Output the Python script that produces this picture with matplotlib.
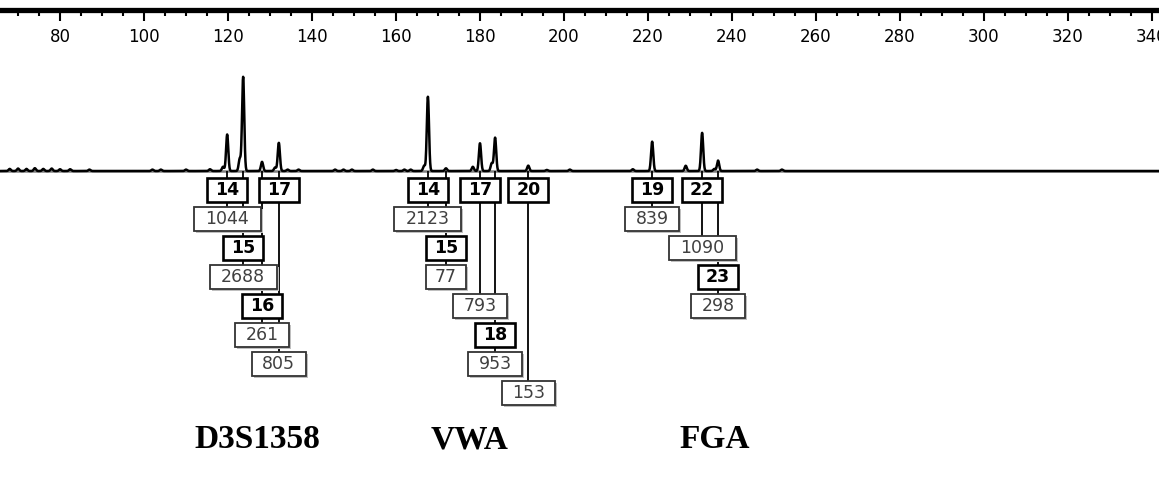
import numpy as np
import matplotlib.pyplot as plt
from matplotlib.patches import Rectangle

# ---- data ----
loci = ['D3S1358', 'VWA', 'FGA']
locus_pos = [127.0, 177.5, 236.0]

# called alleles: label, size (bp), peak height (RFU)
allele_names = ['14', '15', '16', '17', '14', '15', '17', '18', '20', '19', '22', '23']
allele_size = [119.8, 123.6, 128.1, 132.1, 167.6, 171.9, 180.0, 183.6, 191.5, 221.0, 232.9, 236.7]
allele_rfu = [1044, 2688, 261, 805, 2123, 77, 793, 953, 153, 839, 1090, 298]
# row of the allele box and of the height box under the trace
name_row = [0, 2, 4, 0, 0, 2, 0, 5, 0, 0, 0, 3]
value_row = [1, 3, 5, 6, 1, 3, 4, 6, 7, 1, 2, 4]

# stutter, shoulders and baseline noise
minor_size = [68, 70, 72, 74, 76, 78, 80, 82.4, 87, 102, 104, 110, 115.7, 118.8,
              122.8, 131.2, 134.2, 136.8, 145.5, 147.5, 149.5, 154.5, 160, 162,
              163.5, 166.7, 178.3, 182.8, 195.9, 201.4, 216.4, 229.0, 235.8,
              246.0, 251.9]
minor_rfu = [60, 70, 60, 80, 60, 70, 50, 50, 40, 40, 40, 40, 50, 120,
             350, 100, 40, 40, 40, 40, 40, 40, 30, 40,
             40, 150, 120, 220, 30, 40, 50, 150, 60,
             40, 40]

x_lo, x_hi = 65.7, 341.7

fig = plt.figure(figsize=(11.59, 4.79), dpi=100)
fig.patch.set_facecolor('white')
H = 479.0

# ---- ruler on top ----
ax_r = fig.add_axes([0, 1 - 10 / H, 1, 10 / H])
ax_r.set_xlim(x_lo, x_hi)
ax_r.set_yticks([])
for s in ['top', 'left', 'right']:
    ax_r.spines[s].set_visible(False)
ax_r.spines['bottom'].set_linewidth(3.8)
ax_r.set_xticks(np.arange(80, 341, 20))
ax_r.set_xticks(np.arange(70, 345, 5), minor=True)
ax_r.tick_params(axis='x', which='major', length=8, width=1.5, pad=5,
                 labelsize=12, colors='black')
ax_r.tick_params(axis='x', which='minor', length=4.5, width=1.5)
ax_r.patch.set_alpha(0)

# ---- trace ----
scale = 0.035  # px per RFU
ax_tr = fig.add_axes([0, (H - 180) / H, 1, 140 / H])
ax_tr.set_xlim(x_lo, x_hi)
ax_tr.set_ylim(-9 / scale, 131 / scale)
ax_tr.axis('off')

xs = np.linspace(x_lo, x_hi, 8000)
trace = np.zeros_like(xs)
sig = 0.26
for s, h in zip(allele_size + minor_size, allele_rfu + minor_rfu):
    trace += h * np.exp(-0.5 * ((xs - s) / sig) ** 2)
ax_tr.axhline(0, color='0.5', lw=1.8, zorder=1)
ax_tr.plot(xs, trace, color='black', lw=1.8, zorder=2)

# ---- allele / height boxes ----
row_px = 29.0
ax_lab = fig.add_axes([0, 0, 1, (H - 171) / H])
ax_lab.set_xlim(x_lo, x_hi)
top_row = -19 / row_px
ax_lab.set_ylim((H - 190) / row_px, top_row)
ax_lab.axis('off')

px_bp = 1159 / (x_hi - x_lo)
box_h = 24 / row_px

for name, s, h, r0, r1 in zip(allele_names, allele_size, allele_rfu, name_row, value_row):
    ax_lab.plot([s, s], [top_row, r0], color='black', lw=1.3, zorder=1)
    ax_lab.plot([s, s], [r0, r1], color='black', lw=1.3, zorder=1)

    w = (13.5 * len(name) + 13) / px_bp
    ax_lab.add_patch(Rectangle((s - w / 2, r0 - box_h / 2), w, box_h,
                               facecolor='white', edgecolor='black', lw=1.9, zorder=3))
    ax_lab.text(s, r0, name, ha='center', va='center', fontsize=12.5,
                fontweight='bold', color='black', zorder=4)

    lbl = str(h)
    w = (13.5 * len(lbl) + 13) / px_bp
    ax_lab.add_patch(Rectangle((s - w / 2 + 2 / px_bp, r1 - box_h / 2 + 2 / row_px), w, box_h,
                               facecolor='0.75', edgecolor='none', zorder=2))
    ax_lab.add_patch(Rectangle((s - w / 2, r1 - box_h / 2), w, box_h,
                               facecolor='white', edgecolor='0.2', lw=1.3, zorder=3))
    ax_lab.text(s, r1, lbl, ha='center', va='center', fontsize=12.5,
                color='0.25', zorder=4)

for name, p in zip(loci, locus_pos):
    ax_lab.text(p, (440 - 190) / row_px, name, ha='center', va='center',
                fontsize=24, fontweight='bold', family='Liberation Serif')

fig.savefig('out.png', dpi=100, facecolor='white')
